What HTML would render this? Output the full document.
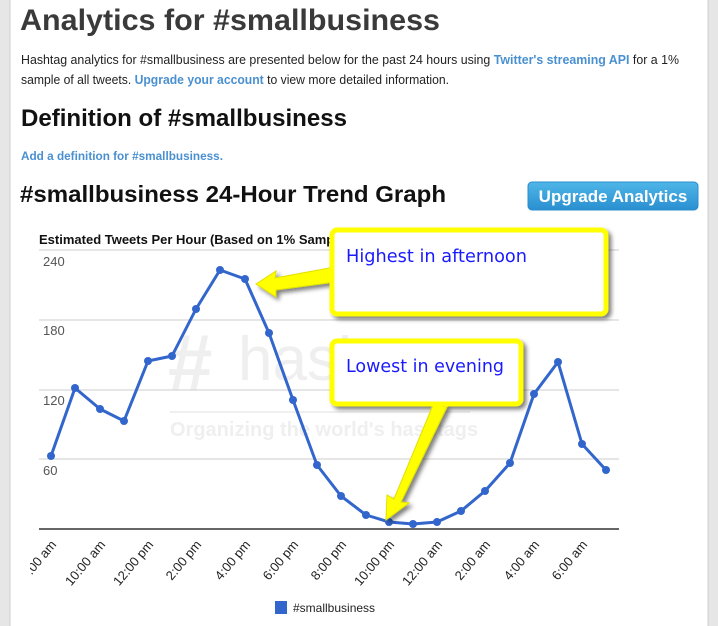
<!DOCTYPE html>
<html><head><meta charset="utf-8"><style>
html,body{margin:0;padding:0;width:718px;height:626px;overflow:hidden;background:#e4e4e4;font-family:"Liberation Sans",Arial,sans-serif}
</style></head><body>
<svg width="718" height="626" xmlns="http://www.w3.org/2000/svg" font-family="Liberation Sans, Arial, sans-serif">
<defs>
<linearGradient id="btn" x1="0" y1="0" x2="0" y2="1"><stop offset="0" stop-color="#4fb6e8"/><stop offset="1" stop-color="#2a8fd0"/></linearGradient>
<filter id="sh" x="-10%" y="-10%" width="130%" height="140%"><feDropShadow dx="3" dy="3" stdDeviation="2" flood-color="#000" flood-opacity="0.5"/></filter>
</defs>
<rect x="0" y="0" width="718" height="626" fill="#e6e6e6"/>
<rect x="10" y="0" width="698" height="626" fill="#fff"/>
<line x1="10" y1="0" x2="10" y2="626" stroke="#ccc"/>
<line x1="708" y1="0" x2="708" y2="626" stroke="#ccc"/>

<text x="20" y="30" font-size="30" font-weight="bold" fill="#3a3a3a" textLength="420" lengthAdjust="spacingAndGlyphs">Analytics for #smallbusiness</text>
<text x="21" y="64" font-size="12.5" fill="#222" textLength="658" lengthAdjust="spacingAndGlyphs">Hashtag analytics for #smallbusiness are presented below for the past 24 hours using <tspan fill="#4a90d0" font-weight="bold">Twitter's streaming API</tspan> for a 1%</text>
<text x="21" y="84" font-size="12.5" fill="#222" textLength="428" lengthAdjust="spacingAndGlyphs">sample of all tweets. <tspan fill="#4a90d0" font-weight="bold">Upgrade your account</tspan> to view more detailed information.</text>
<text x="21" y="126" font-size="24" font-weight="bold" fill="#111" textLength="326" lengthAdjust="spacingAndGlyphs">Definition of #smallbusiness</text>
<text x="21" y="160" font-size="12" font-weight="bold" fill="#4a90d0" textLength="202" lengthAdjust="spacingAndGlyphs">Add a definition for #smallbusiness.</text>
<text x="20" y="202" font-size="23" font-weight="bold" fill="#111" textLength="426" lengthAdjust="spacingAndGlyphs">#smallbusiness 24-Hour Trend Graph</text>
<rect x="528" y="182" width="170" height="28" rx="4" fill="url(#btn)" stroke="#2b8ccc"/>
<text x="613" y="202" font-size="17" font-weight="bold" fill="#fff" text-anchor="middle">Upgrade Analytics</text>

<!-- watermark -->
<g fill="#efefef">
<text x="168" y="390" font-size="80" font-weight="bold">#</text>
<text x="238" y="380" font-size="62">hashtags</text>
<rect x="170" y="411" width="300" height="2"/>
<text x="170" y="436" font-size="20" font-weight="bold">Organizing the world's hashtags</text>
</g>

<text x="39" y="244" font-size="13" font-weight="bold" fill="#111">Estimated Tweets Per Hour (Based on 1% Sample)</text>
<g stroke="#ccc" stroke-width="1">
<line x1="39" y1="250" x2="619" y2="250"/>
<line x1="39" y1="320" x2="619" y2="320"/>
<line x1="39" y1="390" x2="619" y2="390"/>
<line x1="39" y1="459" x2="619" y2="459"/>
</g>
<line x1="39" y1="529" x2="619" y2="529" stroke="#333" stroke-width="1.5"/>
<g font-size="13" fill="#555">
<text x="43" y="266">240</text><text x="43" y="335">180</text><text x="43" y="405">120</text><text x="43" y="475">60</text>
</g>

<polyline fill="none" stroke="#3366cc" stroke-width="3" stroke-linejoin="round" points="51,456 75,388 100,409 124,421 148,361 172,356 196,309 220,270 245,279 269,333 293,400 317,465 341,496 366,515 389,522 413,524 437,522 461,511 485,491 510,463 534,394 558,362 582,444 606,470"/>
<g fill="#3366cc">
<circle cx="51" cy="456" r="4"/><circle cx="75" cy="388" r="4"/><circle cx="100" cy="409" r="4"/><circle cx="124" cy="421" r="4"/><circle cx="148" cy="361" r="4"/><circle cx="172" cy="356" r="4"/><circle cx="196" cy="309" r="4"/><circle cx="220" cy="270" r="4"/><circle cx="245" cy="279" r="4"/><circle cx="269" cy="333" r="4"/><circle cx="293" cy="400" r="4"/><circle cx="317" cy="465" r="4"/><circle cx="341" cy="496" r="4"/><circle cx="366" cy="515" r="4"/><circle cx="389" cy="522" r="4"/><circle cx="413" cy="524" r="4"/><circle cx="437" cy="522" r="4"/><circle cx="461" cy="511" r="4"/><circle cx="485" cy="491" r="4"/><circle cx="510" cy="463" r="4"/><circle cx="534" cy="394" r="4"/><circle cx="558" cy="362" r="4"/><circle cx="582" cy="444" r="4"/><circle cx="606" cy="470" r="4"/>
</g>

<g font-size="13" fill="#222" text-anchor="end">
<text transform="translate(57,545) rotate(-50)">6:00 am</text>
<text transform="translate(106,545) rotate(-50)">10:00 am</text>
<text transform="translate(154,545) rotate(-50)">12:00 pm</text>
<text transform="translate(202,545) rotate(-50)">2:00 pm</text>
<text transform="translate(251,545) rotate(-50)">4:00 pm</text>
<text transform="translate(299,545) rotate(-50)">6:00 pm</text>
<text transform="translate(347,545) rotate(-50)">8:00 pm</text>
<text transform="translate(395,545) rotate(-50)">10:00 pm</text>
<text transform="translate(443,545) rotate(-50)">12:00 am</text>
<text transform="translate(491,545) rotate(-50)">2:00 am</text>
<text transform="translate(540,545) rotate(-50)">4:00 am</text>
<text transform="translate(588,545) rotate(-50)">6:00 am</text>
</g>
<rect x="0" y="530" width="30" height="70" fill="#fff"/>
<rect x="0" y="530" width="10" height="70" fill="#e6e6e6"/>
<line x1="10" y1="530" x2="10" y2="600" stroke="#ccc"/>

<rect x="275" y="601" width="12" height="13" fill="#3366cc"/>
<text x="293" y="612" font-size="12" fill="#222">#smallbusiness</text>

<!-- callouts -->
<g filter="url(#sh)">
<polygon points="256,284 276,271 275,278 335,267 336,282 276,290 276,297" fill="#ffff00" stroke="#e0e000"/>
<rect x="332" y="230" width="274" height="84" rx="5" fill="#fff" stroke="#ffff00" stroke-width="5"/>
<polygon points="433,405 447,407 401,502 409,503 386,520 387,495 394,499" fill="#ffff00" stroke="#e0e000"/>
<rect x="332" y="341" width="189" height="63" rx="5" fill="#fff" stroke="#ffff00" stroke-width="5"/>
</g>
<g font-family="DejaVu Sans, sans-serif" font-size="17.5" fill="#1a1aff">
<text x="346" y="262" textLength="181" lengthAdjust="spacingAndGlyphs">Highest in afternoon</text>
<text x="346" y="372" textLength="158" lengthAdjust="spacingAndGlyphs">Lowest in evening</text>
</g>
</svg>
</body></html>
